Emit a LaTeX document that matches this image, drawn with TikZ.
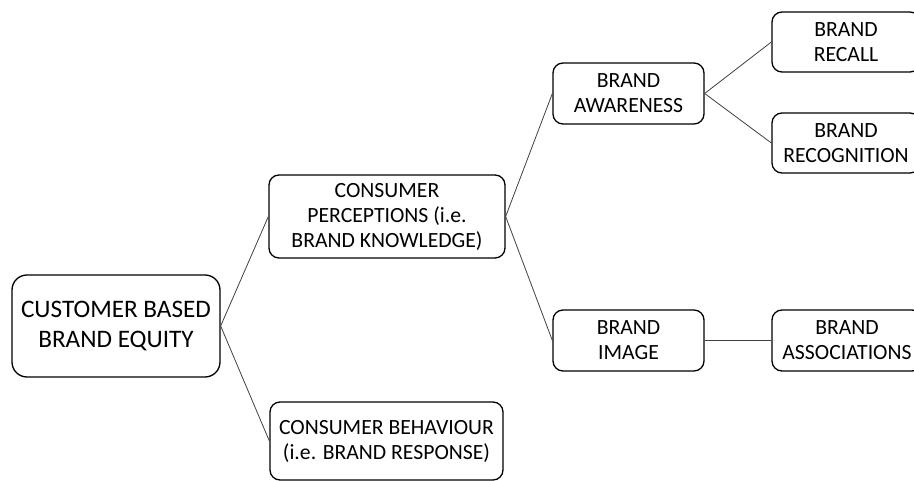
\documentclass[tikz,border=0pt]{standalone}
\usepackage{fontspec}
\setmainfont{Carlito}
\begin{document}
\begin{tikzpicture}[x=1pt,y=-1pt,
  box/.style={draw=black,line width=1.3pt,rounded corners=10pt,inner sep=0pt,
    align=center,font=\fontsize{21.7}{25}\selectfont,text=black},
  bigbox/.style={box,rounded corners=15pt,font=\fontsize{25.2}{30}\selectfont},
  link/.style={draw=black!75,line width=0.8pt}]
\useasboundingbox (0,0) rectangle (914,481);
\clip (0,0) rectangle (914,481);
% root of the tree
\node[bigbox,minimum width=208pt,minimum height=102pt] (root) at (116,326)
  {CUSTOMER BASED\\BRAND EQUITY};
% second level
\node[box,minimum width=236pt,minimum height=83pt] (cp) at (387,216.5)
  {CONSUMER\\PERCEPTIONS (i.e.\\BRAND KNOWLEDGE)};
\node[box,minimum width=233pt,minimum height=78pt] (cb) at (386.5,441)
  {CONSUMER BEHAVIOUR\\(i.e. BRAND RESPONSE)};
% third level
\node[box,minimum width=151pt,minimum height=61pt] (ba) at (628.5,93.5)
  {BRAND\\AWARENESS};
\node[box,minimum width=151pt,minimum height=61pt] (bi) at (628.5,340.5)
  {BRAND\\IMAGE};
% fourth level
\node[box,minimum width=148pt,minimum height=60pt] (rc) at (846,42)
  {BRAND\\RECALL};
\node[box,minimum width=148pt,minimum height=60pt] (rg) at (846,143)
  {BRAND\\RECOGNITION};
\node[box,minimum width=150pt,minimum height=61pt] (as) at (847,340.5)
  {BRAND\\ASSOCIATIONS};
% connectors
\draw[link] (root.east) -- (cp.west);
\draw[link] (root.east) -- (cb.west);
\draw[link] (cp.east) -- (ba.west);
\draw[link] (cp.east) -- (bi.west);
\draw[link] (ba.east) -- (rc.west);
\draw[link] (ba.east) -- (rg.west);
\draw[link] (bi.east) -- (as.west);
\end{tikzpicture}
\end{document}
